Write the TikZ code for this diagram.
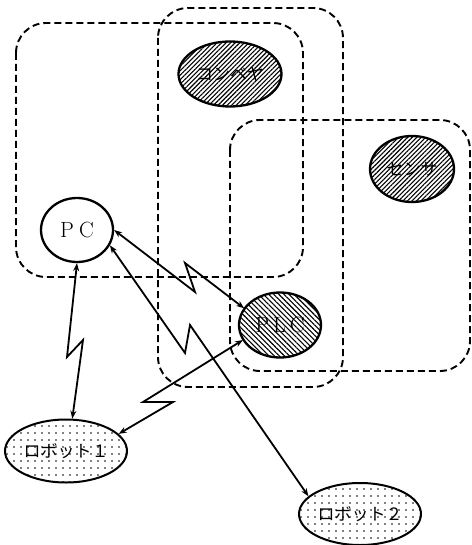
\documentclass[tikz,border=0pt]{standalone}
\usepackage{fontspec}
\newfontfamily\jpfont{Noto Sans CJK JP}
\usetikzlibrary{shapes.geometric,patterns.meta,arrows.meta}
\tikzset{
  grp/.style={draw, line width=1.9pt, dash pattern=on 7pt off 4pt, rounded corners=30pt},
  elli/.style={ellipse, draw, line width=2.3pt, inner sep=0pt, preaction={fill=white}},
  hatchne/.style={elli, pattern={Lines[angle=45,distance=3.2pt,line width=1.1pt]}},
  hatchnw/.style={elli, pattern={Lines[angle=-45,distance=3.6pt,line width=1.1pt]}},
  dotted fill/.style={elli, line width=2pt, pattern={Dots[distance=7pt,radius=0.9pt]}},
  link/.style={line width=1.8pt, {Stealth[length=8pt,width=6pt]}-{Stealth[length=8pt,width=6pt]}, line join=miter},
  jp/.style={font=\jpfont\fontsize{17}{17}\selectfont},
  lat/.style={font=\fontsize{22}{22}\selectfont}
}
\begin{document}
\begin{tikzpicture}[x=1pt,y=-1pt]
\useasboundingbox (0,0) rectangle (471,545);
% dashed groups
\draw[grp] (16,23) rectangle (303,277);
\draw[grp] (158,8) rectangle (343,387);
\draw[grp] (230,120) rectangle (470,371);
% nodes
\node[hatchne, minimum width=103pt, minimum height=65pt, jp] (conv) at (230,74) {コンベヤ};
\node[hatchne, minimum width=84pt, minimum height=66pt, jp] (sens) at (412,169) {センサ};
\node[elli, fill=white, minimum width=72pt, minimum height=64pt, lat] (pc) at (77,230) {P\hspace{5pt}C};
\node[hatchnw, minimum width=82pt, minimum height=65pt, lat] (plc) at (280,325) {P\hspace{4pt}L\hspace{4pt}C};
\node[dotted fill, minimum width=122pt, minimum height=63pt, jp] (r1) at (66,451) {ロボット１};
\node[dotted fill, minimum width=122pt, minimum height=62pt, jp] (r2) at (360,514) {ロボット２};
% zigzag points
\coordinate (a1) at (195,292);
\coordinate (a2) at (185,263);
\coordinate (b1) at (185,353);
\coordinate (b2) at (190,325);
\coordinate (c1) at (67,357);
\coordinate (c2) at (83,340);
\coordinate (d1) at (143,402);
\coordinate (d2) at (173,402);
% connectors
\draw[link] (pc.east) -- (a1) -- (a2) -- (plc.155);
\draw[link] (pc.-25) -- (b1) -- (b2) -- (r2.161);
\draw[link] (pc.south) -- (c1) -- (c2) -- (r1.79);
\draw[link] (plc.202) -- (d1) -- (d2) -- (r1.18);
\end{tikzpicture}
\end{document}
